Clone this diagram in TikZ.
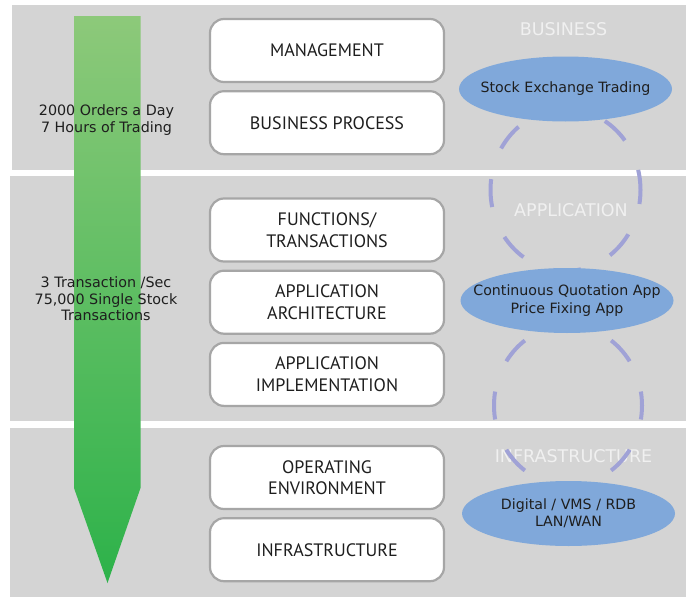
\documentclass[tikz,border=0pt]{standalone}
\usepackage{fontspec}
\setmainfont{DejaVu Sans}
\newfontfamily\boxfont{PT Sans}
\usetikzlibrary{shapes.geometric}
\usetikzlibrary{positioning}
\definecolor{bandgray}{HTML}{D4D4D4}
\definecolor{boxline}{HTML}{A6A6A6}
\definecolor{ovalblue}{HTML}{80A8DA}
\definecolor{ringblue}{HTML}{A0A2D6}
\definecolor{arrowtop}{HTML}{8DC97A}
\definecolor{arrowbot}{HTML}{2DB24A}
\definecolor{tiertext}{HTML}{F0F0F0}
\definecolor{ink}{HTML}{1E1E1E}
\tikzset{x=1pt, y=-1pt, node distance=7pt, font=\fontsize{14}{17}\selectfont}
\tikzstyle{layer} = [draw=boxline, fill=white, rectangle, rounded corners=14pt, line width=2.2pt, minimum width=234pt, minimum height=63pt, text centered, align=center, text=ink, font=\boxfont\fontsize{18}{21.5}\selectfont]
\tikzstyle{oval} = [ellipse, fill=ovalblue, minimum width=213pt, minimum height=65pt, inner xsep=-20pt, inner ysep=0pt, align=center, text=ink, font=\fontsize{14.2}{17.5}\selectfont]
\tikzstyle{tier} = [text=tiertext, inner sep=0pt, font=\fontsize{17.5}{17.5}\selectfont]
\tikzstyle{note} = [align=center, text=ink, font=\fontsize{14.3}{16.5}\selectfont]
\tikzstyle{ring} = [draw=ringblue, line width=4pt, dash pattern=on 28pt off 32.5pt, dash phase=14pt]

\begin{document}
\begin{tikzpicture}
    \useasboundingbox (0,0) rectangle (691,597);
    \fill[white] (0,0) rectangle (691,597);
    \fill[bandgray] (12,5) rectangle (686,170);
    \fill[bandgray] (10,176) rectangle (686,421);
    \fill[bandgray] (10,428) rectangle (686,597);

    \shade[top color=arrowtop, bottom color=arrowbot] (74,16) -- (140.5,16) -- (140.5,488) -- (107.5,583) -- (74,488) -- cycle;

    \node [note] (orders) at (106.5,120) {2000 Orders a Day\\7 Hours of Trading};
    \node [note] (volume) at (106,299) {3 Transaction /Sec\\75,000 Single Stock\\Transactions};

    \node [layer] (mgmt) at (327,50.5) {MANAGEMENT};
    \node [layer, below=of mgmt] (bproc) {BUSINESS PROCESS};
    \node [layer] (func) at (327,230) {FUNCTIONS/\\TRANSACTIONS};
    \node [layer, below=of func] (arch) {APPLICATION\\ARCHITECTURE};
    \node [layer, below=of arch] (impl) {APPLICATION\\IMPLEMENTATION};
    \node [layer] (openv) at (327,477.5) {OPERATING\\ENVIRONMENT};
    \node [layer, below=of openv] (infra) {INFRASTRUCTURE};

    \node [tier] (biz) at (563.5,29) {BUSINESS};
    \node [tier] (app) at (571,210) {APPLICATION};
    \node [tier] (tech) at (573.5,456) {INFRASTRUCTURE};

    \coordinate (upper) at (565.5,190);
    \coordinate (lower) at (568,405.5);
    \draw [ring] (upper) ellipse [x radius=75, y radius=81];
    \draw [ring] (lower) ellipse [x radius=74, y radius=80];

    \node [oval] (trading) at (565.5,89) {Stock Exchange Trading};
    \node [oval] (quotes) at (567,300.5) {Continuous Quotation App\\Price Fixing App};
    \node [oval] (systems) at (568.5,513.5) {Digital / VMS / RDB\\LAN/WAN};
\end{tikzpicture}
\end{document}
